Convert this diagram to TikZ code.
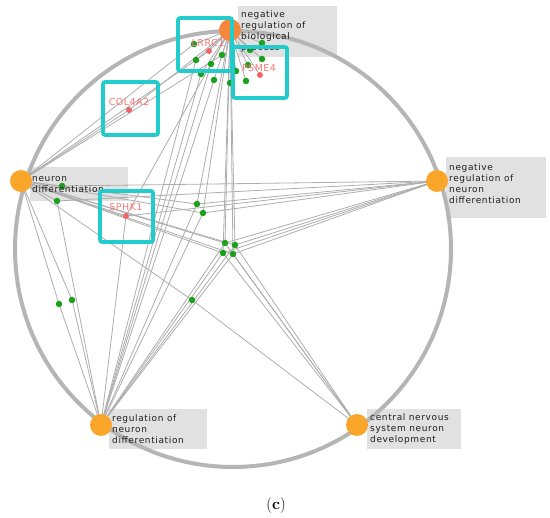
\documentclass[tikz,border=0pt]{standalone}
\usepackage{fontspec}
\newfontfamily\labfont[LetterSpace=7]{DejaVu Sans}
\newfontfamily\genefont[LetterSpace=5]{DejaVu Sans}
\pgfdeclarelayer{bg}
\pgfdeclarelayer{edges}
\pgfdeclarelayer{top}
\pgfsetlayers{bg,edges,main,top}
\definecolor{termor}{HTML}{FAA62A}
\definecolor{termred}{HTML}{F5873A}
\definecolor{gdot}{HTML}{1AA01A}
\definecolor{genec}{HTML}{F06464}
\definecolor{genetxt}{HTML}{F77878}
\definecolor{cyanb}{HTML}{22CCCC}
\definecolor{boxg}{HTML}{E1E1E1}
\definecolor{circg}{HTML}{B5B5B5}
\definecolor{edgeg}{HTML}{ADADAD}
\tikzset{
 term/.style={circle, fill=termor, minimum size=22pt, inner sep=0pt},
 gd/.style={circle, fill=gdot, minimum size=6.5pt, inner sep=0pt},
 gene/.style={circle, fill=genec, minimum size=6pt, inner sep=0pt},
 genelab/.style={font=\genefont\fontsize{9.5}{11}\selectfont, text=genetxt, inner sep=0pt},
 termbox/.style={fill=boxg, anchor=north west, inner sep=0pt},
 termtxt/.style={anchor=west, font=\labfont\fontsize{9}{11}\selectfont, align=left, inner sep=0pt, text=black!88},
 edge/.style={draw=edgeg, line width=0.8pt},
 hl/.style={draw=cyanb, line width=3.6pt, rounded corners=2pt, inner sep=0pt},
 ring/.style={circle, draw=circg, line width=4pt, inner sep=0pt},
}
\begin{document}
\begin{tikzpicture}[x=1pt,y=-1pt]
\useasboundingbox (0,0) rectangle (550,518);
% term nodes
\node[term, fill=termred] (T) at (230,30) {};
\node[term] (L) at (21,181) {};
\node[term] (R) at (437,181) {};
\node[term] (BL) at (101,425) {};
\node[term] (BR) at (357,425) {};
% genes
\node[gene] (lrrc) at (209,51) {};
\node[gene] (psme) at (260,75) {};
\node[gene] (col) at (129,110) {};
\node[gene] (sphk) at (126,216) {};
% green dots
\node[gd] (g1) at (194,44) {};
\node[gd] (g2) at (196,60) {};
\node[gd] (g3) at (211,64) {};
\node[gd] (g4) at (222,55) {};
\node[gd] (g5) at (201,74) {};
\node[gd] (g6) at (214,80) {};
\node[gd] (g7) at (230,83) {};
\node[gd] (g8) at (246,81) {};
\node[gd] (g9) at (236,71) {};
\node[gd] (g10) at (248,65) {};
\node[gd] (g11) at (262,43) {};
\node[gd] (g12) at (262,59) {};
\node[gd] (g13) at (250,50) {};
\node[gd] (c1) at (225,243) {};
\node[gd] (c2) at (235,245) {};
\node[gd] (c3) at (223,253) {};
\node[gd] (c4) at (233,254) {};
\node[gd] (d1) at (197,204) {};
\node[gd] (d2) at (203,213) {};
\node[gd] (e1) at (62,186) {};
\node[gd] (e2) at (57,201) {};
\node[gd] (f1) at (59,304) {};
\node[gd] (f2) at (72,300) {};
\node[gd] (h) at (192,300) {};
\begin{pgfonlayer}{bg}
\node[termbox, minimum width=99pt, minimum height=51pt] (Tbox) at (238,6) {};
\node[termbox, minimum width=100pt, minimum height=61pt] (Rbox) at (446,157) {};
\node[termbox, minimum width=98pt, minimum height=34pt] (Lbox) at (30,167) {};
\node[termbox, minimum width=98pt, minimum height=40pt] (BLbox) at (109,409) {};
\node[termbox, minimum width=94pt, minimum height=40pt] (BRbox) at (367,409) {};
\node[ring, minimum size=436pt] (ring) at (233,249) {};
\end{pgfonlayer}
\begin{pgfonlayer}{edges}
\foreach \g in {c1,c2,c3,c4} {
  \foreach \t in {T,L,R,BL,BR} { \draw[edge] (\g.center) -- (\t.center); }
}
\foreach \g in {d1,d2,sphk} {
  \foreach \t in {T,L,R,BL} { \draw[edge] (\g.center) -- (\t.center); }
}
\foreach \g in {g1,g2,g3,g4,g5,g6,g7,g8,g9,g10,g11,g12,g13,lrrc,psme,col} {
  \draw[edge] (\g.center) -- (T.center);
}
\foreach \g in {g2,g3,g5,g6} { \draw[edge] (\g.center) -- (BL.center); }
\foreach \g in {g1,g4,lrrc,col} { \draw[edge] (\g.center) -- (L.center); }
\draw[edge] (e1.center) -- (L.center);
\draw[edge] (e1.center) -- (R.center);
\draw[edge] (e2.center) -- (L.center);
\draw[edge] (e2.center) -- (R.center);
\draw[edge] (e2.center) -- (BL.center);
\draw[edge] (L.center) -- (f1.center) -- (BL.center);
\draw[edge] (L.center) -- (f2.center) -- (BL.center);
\draw[edge] (L.center) -- (h.center) -- (BR.center);
\end{pgfonlayer}
% term labels
\node[termtxt] (Ttxt) at ([xshift=3pt]Tbox.west) {negative\\regulation of\\biological\\process};
\node[termtxt] (Rtxt) at ([xshift=3pt,yshift=4pt]Rbox.west) {negative\\regulation of\\neuron\\differentiation};
\node[termtxt] (Ltxt) at ([xshift=2pt]Lbox.west) {neuron\\differentiation};
\node[termtxt] (BLtxt) at ([xshift=3pt]BLbox.west) {regulation of\\neuron\\differentiation};
\node[termtxt] (BRtxt) at ([xshift=3pt]BRbox.west) {central nervous\\system neuron\\development};
% gene labels
\node[genelab] (lrrct) at (208,43) {LRRC1};
\node[genelab] (psmet) at (259,68) {PSME4};
\node[genelab] (colt) at (129,102) {COL4A2};
\node[genelab] (sphkt) at (126,207) {SPHK1};
\begin{pgfonlayer}{top}
\node[hl, minimum width=54pt, minimum height=53pt] (hlA) at (205,44.5) {};
\node[hl, minimum width=54pt, minimum height=51pt] (hlB) at (260,72.5) {};
\node[hl, minimum width=55pt, minimum height=53pt] (hlC) at (130.5,108.5) {};
\node[hl, minimum width=53pt, minimum height=51pt] (hlD) at (126.5,216.5) {};
\end{pgfonlayer}
\node[font=\fontsize{16}{18}\selectfont] (cap) at (276,506) {(\textbf{c})};
\end{tikzpicture}
\end{document}
